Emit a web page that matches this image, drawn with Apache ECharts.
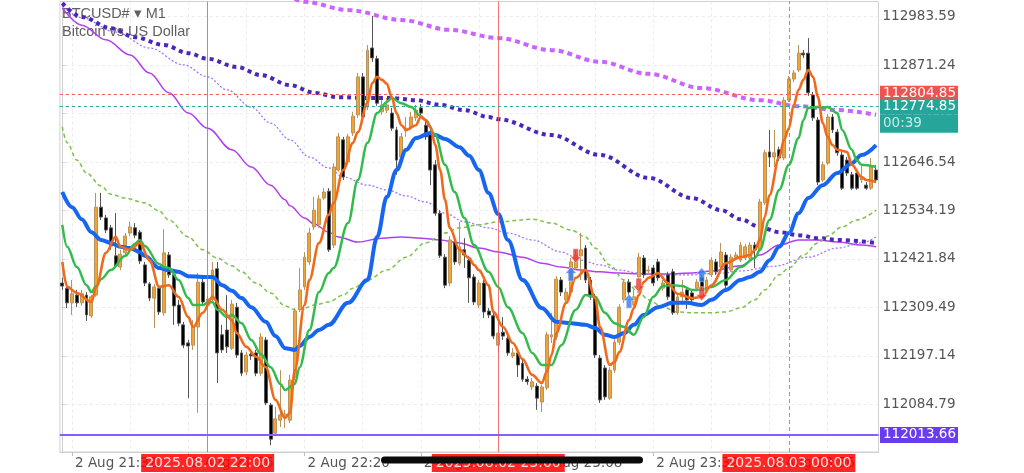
<!DOCTYPE html>
<html><head><meta charset="utf-8">
<script src="https://cdn.jsdelivr.net/npm/echarts@6/dist/echarts.min.js"></script>
<style>html,body{margin:0;padding:0;background:#fff}#c{width:1024px;height:473px}</style>
</head><body><div id="c"></div>
<script>
// ---- categories: one candle per minute, 2 Aug 21:30 .. 3 Aug 00:18
const times = [];
for (let m = 21 * 60 + 30; m <= 24 * 60 + 18; m++) {
  const mm = m % 1440;
  times.push(String(Math.floor(mm / 60)).padStart(2, '0') + ':' + String(mm % 60).padStart(2, '0'));
}
// ---- tick labels
const yTickLabels = ['112084.79','112197.14','112309.49','112421.84','112534.19','112646.54','112758.89','112871.24','112983.59'];
const xLabelIdx = [2, 26, 50, 74, 98, 122, 146];
const xGridIdx = [2, 14, 26, 38, 50, 62, 74, 86, 98, 110, 122, 134, 146, 158];
// ---- candles
const opens = [112366,112354,112320,112338,112320,112338,112290,112338,112542,112517,
112494,112429,112403,112436,112482,112494,112484,112408,112364,112331,
112354,112297,112431,112385,112315,112269,112227,112222,112264,112368,
112315,112327,112399,112246,112257,112215,112310,112204,112160,112201,
112204,112157,112234,112083,112018,112048,112053,112048,112148,112304,
112357,112415,112496,112501,112563,112579,112454,112628,112698,112647,
112714,112756,112844,112774,112911,112886,112763,112767,112760,112721,
112658,112719,112728,112749,112772,112732,112714,112640,112528,112426,
112366,112461,112412,112443,112419,112380,112315,112366,112301,112290,
112222,112252,112238,112197,112204,112180,112143,112125,112127,112090,
112123,112241,112241,112373,112327,112345,112401,112429,112447,112373,
112334,112192,112169,112099,112164,112229,112327,112368,112315,112380,
112424,112394,112401,112415,112354,112385,112392,112297,112334,112350,
112343,112354,112378,112350,112385,112415,112403,112431,112396,112426,
112419,112424,112424,112454,112443,112552,112670,112658,112675,112656,
112790,112839,112860,112899,112899,112802,112744,112605,112644,112751,
112716,112663,112651,112617,112621,112605,112593,112586,112628];
const closes = [112359,112320,112341,112320,112341,112292,112334,112542,112519,112489,
112452,112406,112433,112475,112496,112477,112417,112366,112331,112357,
112299,112436,112385,112313,112273,112222,112220,112264,112368,112322,
112329,112396,112204,112211,112218,112317,112199,112157,112199,112197,
112157,112241,112088,112004,112051,112060,112062,112141,112301,112350,
112426,112482,112535,112561,112577,112443,112635,112705,112612,112705,
112753,112844,112751,112906,112888,112783,112779,112779,112725,112651,
112705,112725,112751,112767,112760,112705,112628,112528,112429,112361,
112466,112415,112450,112431,112378,112322,112366,112299,112292,112243,
112250,112243,112204,112204,112176,112143,112137,112137,112099,112125,
112246,112246,112375,112345,112345,112415,112431,112443,112373,112334,
112199,112095,112102,112164,112229,112310,112368,112345,112334,112426,
112385,112396,112366,112378,112366,112334,112297,112334,112345,112327,
112327,112368,112357,112373,112419,112392,112438,112361,112426,112431,
112454,112450,112454,112443,112554,112668,112658,112668,112656,112790,
112839,112853,112899,112895,112807,112749,112600,112640,112751,112721,
112668,112586,112621,112586,112586,112610,112586,112635,112605];
const lows = [112350,112308,112292,112310,112313,112278,112285,112334,112512,112482,
112443,112401,112396,112429,112475,112470,112410,112359,112324,112262,
112292,112290,112378,112269,112266,112215,112099,112211,112065,112315,
112308,112320,112134,112204,112204,112211,112192,112150,112153,112188,
112150,112150,112083,111990,112011,112032,112030,112041,112141,112299,
112350,112408,112489,112494,112559,112438,112447,112624,112605,112640,
112707,112749,112744,112767,112879,112777,112756,112760,112719,112617,
112651,112705,112721,112742,112753,112698,112593,112522,112424,112354,
112359,112408,112406,112401,112320,112315,112308,112285,112285,112236,
112204,112234,112197,112192,112148,112137,112130,112118,112072,112067,
112118,112227,112234,112336,112320,112340,112396,112373,112366,112327,
112192,112088,112095,112095,112157,112222,112320,112338,112308,112373,
112378,112387,112359,112371,112348,112327,112292,112292,112315,112306,
112320,112348,112350,112343,112380,112385,112396,112354,112392,112424,
112415,112419,112419,112401,112438,112547,112635,112635,112649,112651,
112786,112832,112855,112888,112800,112742,112593,112600,112640,112714,
112661,112582,112614,112582,112582,112598,112582,112582,112598];
const highs = [112378,112368,112373,112350,112350,112345,112338,112575,112575,112524,
112501,112528,112443,112482,112508,112505,112489,112415,112368,112364,
112359,112491,112438,112392,112327,112276,112234,112280,112389,112385,
112336,112415,112415,112269,112338,112327,112320,112211,112206,112211,
112211,112250,112241,112088,112079,112164,112072,112153,112308,112401,
112438,112494,112566,112570,112586,112586,112644,112714,112705,112712,
112763,112853,112853,112918,112985,112893,112790,112795,112772,112728,
112714,112751,112763,112779,112781,112744,112721,112651,112535,112433,
112475,112468,112508,112470,112429,112387,112373,112373,112308,112297,
112287,112287,112246,112215,112211,112188,112150,112146,112134,112130,
112253,112297,112382,112380,112354,112424,112443,112482,112454,112380,
112341,112199,112176,112171,112236,112317,112375,112375,112350,112436,
112431,112406,112408,112422,112373,112392,112399,112341,112373,112357,
112350,112375,112385,112380,112426,112422,112459,112438,112433,112438,
112461,112457,112461,112461,112561,112675,112721,112721,112682,112797,
112846,112860,112918,112906,112934,112809,112751,112647,112758,112758,
112723,112670,112658,112624,112628,112640,112600,112656,112640];
// ---- indicator lines at candle indices
const maOrange = [[0,112415],[1,112357],[3,112343],[6,112322],[7,112357],[9,112436],[11,112473],[12,112450],[14,112443],[16,112459],[18,112419],[20,112357],[22,112361],[24,112334],[26,112287],[27,112264],[29,112297],[31,112334],[33,112304],[35,112280],[36,112250],[38,112218],[40,112195],[42,112171],[44,112095],[46,112053],[47,112065],[48,112164],[50,112315],[51,112373],[53,112459],[55,112524],[56,112552],[58,112628],[60,112691],[61,112716],[63,112784],[64,112830],[65,112844],[66,112837],[67,112828],[68,112797],[69,112760],[70,112732],[71,112721],[73,112732],[74,112751],[75,112744],[76,112728],[77,112686],[78,112628],[79,112559],[80,112494],[82,112443],[84,112424],[85,112408],[86,112396],[88,112361],[89,112299],[91,112264],[93,112227],[95,112190],[97,112153],[99,112134],[100,112160],[101,112199],[102,112250],[104,112320],[106,112378],[108,112396],[110,112331],[111,112264],[113,112176],[114,112183],[115,112206],[117,112280],[118,112308],[119,112338],[120,112368],[121,112378],[123,112389],[125,112366],[127,112341],[130,112331],[132,112334],[134,112361],[137,112412],[140,112426],[142,112431],[143,112443],[144,112466],[145,112519],[146,112570],[148,112658],[149,112698],[150,112725],[151,112779],[152,112814],[153,112837],[154,112860],[155,112844],[156,112797],[157,112737],[158,112705],[159,112686],[160,112675],[162,112670],[163,112640],[165,112612],[166,112605],[168,112600]];
const maGreen = [[0,112501],[1,112450],[3,112403],[5,112361],[6,112345],[7,112359],[8,112375],[10,112396],[13,112429],[15,112457],[16,112466],[17,112452],[20,112410],[21,112403],[22,112401],[24,112373],[26,112331],[27,112315],[29,112315],[30,112320],[31,112322],[32,112304],[34,112287],[35,112292],[37,112273],[39,112234],[41,112201],[43,112171],[45,112132],[46,112118],[48,112132],[49,112171],[51,112257],[53,112345],[55,112389],[56,112401],[59,112505],[61,112605],[63,112691],[65,112760],[67,112786],[68,112795],[70,112783],[72,112774],[74,112753],[75,112744],[77,112709],[79,112640],[81,112577],[83,112517],[85,112454],[88,112392],[90,112357],[92,112310],[95,112250],[97,112204],[99,112176],[101,112176],[103,112222],[106,112304],[108,112338],[110,112334],[112,112297],[114,112273],[116,112264],[118,112246],[120,112287],[122,112334],[124,112359],[126,112361],[128,112359],[130,112350],[132,112350],[134,112357],[137,112373],[140,112403],[143,112424],[144,112443],[146,112512],[148,112582],[150,112640],[152,112702],[153,112744],[154,112772],[156,112774],[157,112772],[158,112774],[160,112760],[161,112721],[163,112675],[164,112651],[165,112640],[168,112635]];
const maBlue = [[0,112577],[2,112542],[4,112514],[6,112484],[8,112466],[10,112459],[12,112450],[14,112447],[16,112438],[17,112429],[20,112401],[22,112396],[24,112392],[26,112382],[29,112380],[31,112380],[33,112361],[35,112348],[37,112331],[39,112310],[42,112276],[44,112243],[46,112215],[48,112211],[49,112220],[51,112241],[53,112257],[55,112269],[59,112320],[63,112373],[65,112473],[67,112566],[69,112628],[71,112675],[73,112702],[76,112714],[77,112709],[79,112700],[82,112681],[84,112661],[86,112628],[88,112575],[90,112526],[92,112466],[95,112373],[99,112308],[102,112276],[105,112273],[108,112269],[110,112262],[112,112246],[114,112241],[116,112250],[118,112269],[120,112292],[123,112310],[126,112320],[129,112320],[132,112315],[134,112327],[137,112350],[140,112373],[142,112380],[144,112392],[146,112419],[148,112450],[150,112482],[152,112528],[154,112563],[157,112593],[160,112621],[163,112644],[165,112663],[168,112686]];
const maLightGreen = [[0,112728],[1,112691],[3,112651],[5,112621],[8,112591],[10,112572],[13,112563],[17,112552],[20,112533],[22,112512],[26,112473],[29,112443],[32,112424],[35,112406],[37,112392],[40,112366],[43,112343],[46,112313],[48,112304],[50,112308],[52,112315],[55,112322],[58,112338],[60,112354],[63,112373],[67,112396],[71,112426],[75,112459],[79,112482],[82,112494],[86,112501],[90,112508],[97,112514],[101,112505],[105,112489],[108,112473],[110,112447],[113,112408],[116,112373],[119,112345],[121,112327],[124,112310],[127,112299],[130,112297],[134,112297],[137,112299],[140,112308],[143,112327],[145,112350],[148,112385],[150,112401],[153,112431],[156,112459],[158,112475],[161,112496],[164,112512],[168,112535]];
const maPurple = [[0,113004],[4,112964],[9,112930],[14,112895],[18,112853],[22,112807],[26,112760],[30,112725],[35,112675],[39,112635],[43,112593],[46,112559],[47,112545],[50,112517],[52,112503],[55,112484],[57,112473],[61,112461],[66,112470],[70,112473],[74,112470],[78,112466],[82,112459],[86,112447],[90,112438],[95,112426],[99,112412],[103,112403],[107,112396],[111,112392],[115,112389],[119,112387],[125,112387],[130,112389],[134,112394],[140,112406],[144,112431],[148,112454],[152,112466],[156,112466],[160,112461],[165,112454],[168,112450]];
const maPurpleDotted = [[0,113008],[4,112981],[11,112948],[18,112911],[25,112872],[30,112844],[34,112814],[39,112774],[43,112737],[47,112698],[51,112658],[55,112633],[58,112612],[63,112593],[67,112582],[71,112568],[75,112554],[79,112528],[83,112508],[88,112494],[92,112482],[97,112466],[103,112438],[107,112419],[111,112408],[115,112396],[119,112389],[125,112385],[130,112385],[136,112389],[140,112394],[147,112405],[154,112426],[160,112447],[165,112459],[168,112473]];
const maIndigo = [[0,113015],[4,112983],[10,112957],[15,112936],[21,112918],[26,112899],[30,112886],[36,112867],[41,112848],[47,112825],[52,112807],[57,112797],[63,112795],[68,112795],[73,112790],[78,112779],[83,112767],[88,112751],[90,112746],[101,112709],[111,112663],[121,112610],[130,112563],[136,112535],[140,112514],[144,112496],[148,112484],[152,112477],[156,112470],[160,112466],[168,112459]];
const maViolet = [[48,113025],[50,113018],[59,112999],[70,112976],[80,112953],[90,112934],[101,112906],[111,112879],[121,112851],[132,112818],[144,112790],[152,112776],[160,112767],[168,112756]];
// ---- trade arrows
const buyArrows = [[105,112387],[117,112324],[132,112385]];
const sellArrows = [[106,112429],[119,112361],[132,112341]];
// ---- price levels and separators
const askPrice = 112804.85, bidPrice = 112774.85, countdown = '00:39', lowLevel = 112013.66;
const sepTimes = ['22:00', '23:00', '00:00'];
const sepLabels = ['2025.08.02 22:00', '2025.08.02 23:00', '2025.08.03 00:00'];

const FONT = 'DejaVu Sans';
const yTickValues = yTickLabels.map(Number);
const candleData = opens.map((o, i) => [o, closes[i], lows[i], highs[i]]);

function line(data, color, width, type, z) {
  return { type: 'line', xAxisIndex: 0, data, showSymbol: false, symbol: 'none', smooth: 0.35,
    smoothMonotone: 'x', silent: true, z: z, lineStyle: { color, width, type, cap: 'butt' } };
}
const upPath = 'path://M5,0 L10,5 L7.5,5 L7.5,11 L2.5,11 L2.5,5 L0,5 Z';
const downPath = 'path://M2.5,0 L7.5,0 L7.5,6 L10,6 L5,11 L0,6 L2.5,6 Z';
const lvlLabel = (txt, bg) => ({ show: true, position: 'end', distance: 1.5, formatter: txt,
  backgroundColor: bg, color: '#fff', fontFamily: FONT, fontSize: 13.5, lineHeight: 16, padding: [0, 2, 0, 3] });

const option = {
  animation: false,
  backgroundColor: '#ffffff',
  title: { text: 'BTCUSD# \u25BE M1', subtext: 'Bitcoin vs US Dollar', left: 62, top: 6, itemGap: 3, padding: 0, z: 1,
    textStyle: { fontFamily: 'Liberation Sans', fontSize: 14.5, fontWeight: 'normal', color: '#606060' },
    subtextStyle: { fontFamily: 'Liberation Sans', fontSize: 14.5, color: '#606060' } },
  grid: { left: 59.9, right: 145.5, top: 1.5, bottom: 21, show: true, borderColor: '#d2d2d2', borderWidth: 1 },
  xAxis: [
    { type: 'value', min: -0.5, max: 168.5, position: 'bottom',
      axisLine: { show: true, lineStyle: { color: '#cfcfcf' } },
      axisTick: { show: true, customValues: xLabelIdx, length: 4, lineStyle: { color: '#bdbdbd' } },
      axisLabel: { customValues: xLabelIdx, formatter: v => '2 Aug ' + times[v], align: 'left', margin: 4,
        padding: [0, 0, 0, 3], fontFamily: FONT, fontSize: 13.5, color: '#555' },
      splitLine: { show: false } },
    { type: 'category', data: times, show: false, boundaryGap: true },
    { type: 'value', min: -0.5, max: 168.5, show: true, axisLine: { show: false },
      axisTick: { show: false, customValues: xGridIdx }, axisLabel: { show: false },
      splitLine: { show: true, lineStyle: { color: '#ebebeb', type: [3, 3] } } }
  ],
  yAxis: { type: 'value', position: 'right', min: 111974.2, max: 113018.8,
    axisLine: { show: true, lineStyle: { color: '#cfcfcf' } },
    axisTick: { show: true, customValues: yTickValues, length: 3, lineStyle: { color: '#cfcfcf' } },
    axisLabel: { customValues: yTickValues, formatter: v => v.toFixed(2), margin: 4, fontFamily: FONT, fontSize: 13.5, color: '#555' },
    splitLine: { show: true, lineStyle: { color: '#ebebeb', type: [3, 3] } } },
  series: [
    line(maPurple, '#B23EF0', 1.5, 'solid', 2),
    line(maPurpleDotted, '#9D6CFF', 1.2, [2, 2], 2),
    line(maIndigo, '#4A27B8', 4, [4, 4], 2),
    line(maViolet, '#C964FF', 4, [5, 4], 2),
    line(maLightGreen, '#7CC24A', 1.5, [4, 3], 2),
    { type: 'candlestick', xAxisIndex: 1, barWidth: 3.4, data: candleData, z: 3,
      itemStyle: { color: '#F4A231', color0: '#000000', borderColor: '#B8935C', borderColor0: '#555555', borderWidth: 1 },
      markLine: { silent: true, symbol: ['none', 'none'], animation: false,
        data: [
          ...sepTimes.map((t, k) => ({ xAxis: t,
            lineStyle: { color: '#f25a5a', width: 1, type: k === 2 ? [4, 3] : 'solid', opacity: 0.85 },
            label: { show: true, position: 'start', distance: 2, formatter: sepLabels[k], backgroundColor: '#ff0000',
              color: '#fff', fontFamily: FONT, fontSize: 14, lineHeight: 16, padding: [1, 4, 1, 4] } })),
          { yAxis: askPrice, lineStyle: { color: '#f25c5c', width: 1, type: [3, 3] }, label: lvlLabel(askPrice.toFixed(2), '#EF5350') },
          { yAxis: bidPrice, lineStyle: { color: '#2aa79b', width: 1, type: [3, 3] },
            label: { show: true, position: 'end', distance: 1.5,
              formatter: '{e| }\n{a|' + bidPrice.toFixed(2) + '}\n{b|' + countdown + '}',
              fontFamily: FONT, fontSize: 13.5,
              rich: {
                e: { height: 18, lineHeight: 18, fontSize: 13.5 },
                a: { width: 73, height: 16, lineHeight: 16, padding: [0, 2, 0, 3], backgroundColor: '#26A69A', color: '#fff', fontFamily: FONT, fontSize: 13.5 },
                b: { width: 73, height: 18, lineHeight: 18, padding: [0, 2, 0, 3], backgroundColor: '#26A69A', color: 'rgba(255,255,255,0.75)', fontFamily: FONT, fontSize: 13.5 }
              } } },
          { yAxis: lowLevel, lineStyle: { color: '#8B5CF6', width: 2, type: 'solid' }, label: lvlLabel(lowLevel.toFixed(2), '#6A3CF0') }
        ] } },
    line(maBlue, '#1766F0', 4, 'solid', 4),
    line(maGreen, '#33BB4E', 2.5, 'solid', 5),
    line(maOrange, '#F06A1E', 2.6, 'solid', 6),
    { type: 'scatter', xAxisIndex: 0, data: buyArrows, symbol: upPath, symbolSize: [11, 14], z: 8, silent: true,
      itemStyle: { color: '#2F7CF6', borderColor: '#ffffff', borderWidth: 0.5 } },
    { type: 'scatter', xAxisIndex: 0, data: sellArrows, symbol: downPath, symbolSize: [11, 14], z: 8, silent: true,
      itemStyle: { color: '#E53935', borderColor: '#ffffff', borderWidth: 0.5 } }
  ],
  graphic: [{ type: 'rect', z: 100, shape: { x: 381, y: 456.5, width: 262, height: 7, r: 3.5 }, style: { fill: '#0b0b0b' } }]
};
const chart = echarts.init(document.getElementById('c'), null, { renderer: 'canvas' });
chart.setOption(option);
</script></body></html>
